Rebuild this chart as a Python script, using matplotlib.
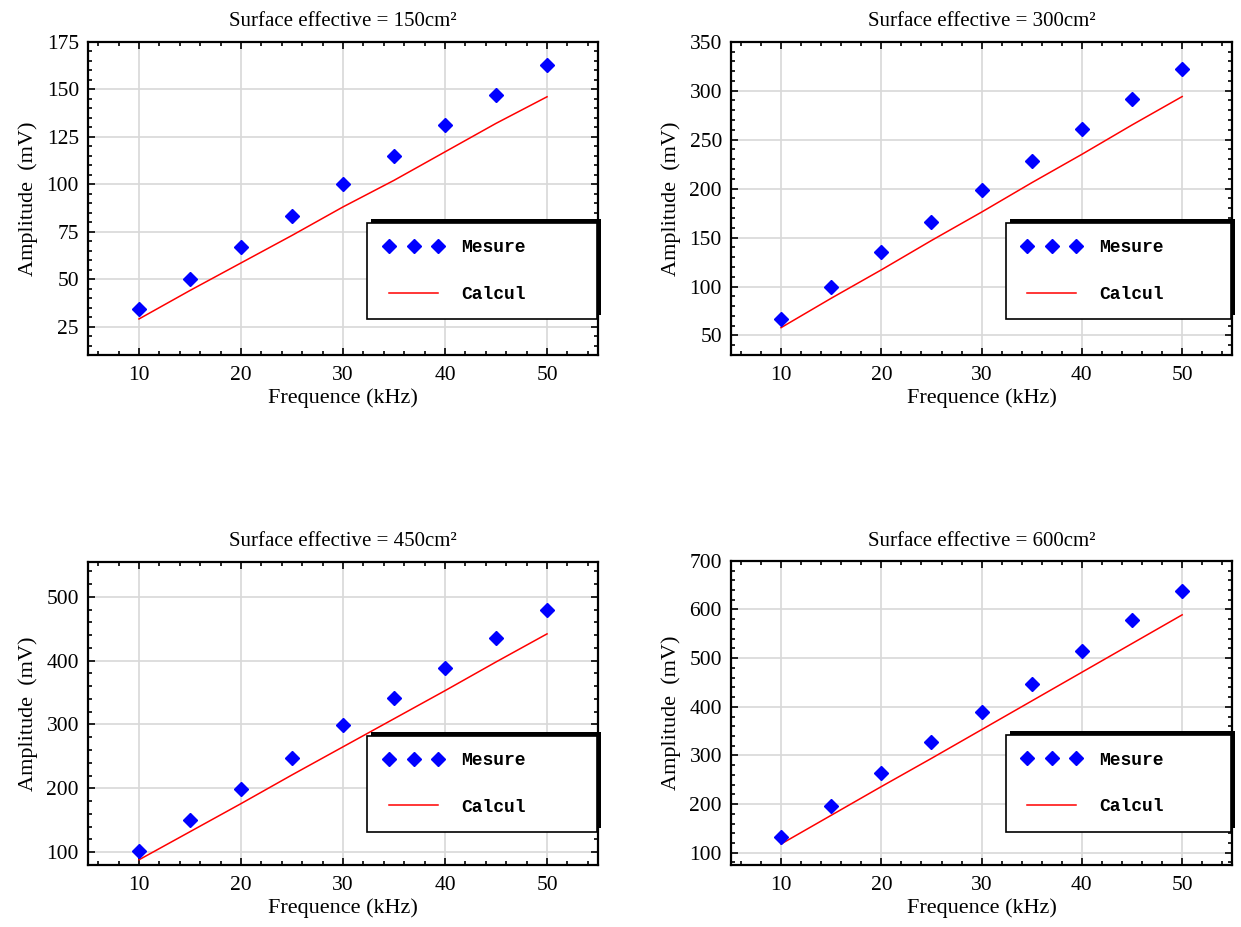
import numpy as np
import matplotlib.pyplot as plt
from matplotlib.ticker import MultipleLocator
from matplotlib.patches import Rectangle

# frequencies (kHz)
freq = [10, 15, 20, 25, 30, 35, 40, 45, 50]

surfaces = [150, 300, 450, 600]

mesure_150 = [34, 50, 67, 83, 100, 115, 131, 147, 163]
calcul_150 = [29, 44, 58.5, 73, 88, 102, 117, 132, 146]

mesure_300 = [67, 100, 135, 166, 199, 228, 261, 291, 322]
calcul_300 = [58, 88, 117, 147, 176, 206, 235, 265, 294]

mesure_450 = [101, 150, 199, 247, 299, 341, 389, 435, 480]
calcul_450 = [88, 132, 176, 221, 265, 309, 353, 398, 442]

mesure_600 = [133, 197, 263, 327, 390, 446, 514, 578, 638]
calcul_600 = [118, 177, 236, 294, 353, 412, 471, 530, 589]

mesures = [mesure_150, mesure_300, mesure_450, mesure_600]
calculs = [calcul_150, calcul_300, calcul_450, calcul_600]

# axis settings per panel: ylim, major, minor
ylims = [(10, 175), (30, 350), (80, 555), (75, 700)]
ymajor = [25, 50, 100, 100]
yminor = [5, 10, 20, 20]

# panel positions [left, bottom, width, height] in figure fraction
positions = [
    [0.0709, 0.617, 0.411, 0.338],
    [0.589, 0.617, 0.404, 0.338],
    [0.0709, 0.067, 0.411, 0.327],
    [0.589, 0.067, 0.404, 0.328],
]

serif = "Liberation Serif"
mono = "Liberation Mono"

fig = plt.figure(figsize=(12.41, 9.27), dpi=100)
legends = []

for i in range(4):
    ax = fig.add_axes(positions[i])
    ax.plot(freq, calculs[i], color="#ff0000", lw=1.1, label="Calcul", zorder=3)
    ax.plot(freq, mesures[i], ls="none", marker="D", ms=7, color="#0000ff",
            label="Mesure", zorder=4)

    ax.set_xlim(5, 55)
    ax.set_ylim(*ylims[i])
    ax.xaxis.set_major_locator(MultipleLocator(10))
    ax.xaxis.set_minor_locator(MultipleLocator(2))
    ax.yaxis.set_major_locator(MultipleLocator(ymajor[i]))
    ax.yaxis.set_minor_locator(MultipleLocator(yminor[i]))
    ax.grid(True, which="major", color="#d8d8d8", lw=1.2)
    ax.set_axisbelow(True)
    ax.tick_params(which="both", direction="in", top=True, right=True,
                   labelsize=15.5, width=1.2)
    ax.tick_params(which="major", length=5)
    ax.tick_params(which="minor", length=3)
    ax.tick_params(axis="x", which="major", pad=8)
    ax.tick_params(axis="y", which="major", pad=6.5)
    for lab in ax.get_xticklabels() + ax.get_yticklabels():
        lab.set_fontfamily(serif)
    for sp in ax.spines.values():
        sp.set_linewidth(1.6)

    ax.set_title("Surface effective = %dcm²" % surfaces[i], fontsize=15,
                 family=serif, pad=11)
    ax.set_xlabel("Frequence (kHz)", fontsize=16, family=serif, labelpad=2)
    ax.set_ylabel("Amplitude  (mV)", fontsize=16, family=serif, labelpad=6)

    handles, labels = ax.get_legend_handles_labels()
    leg = ax.legend(handles[::-1], labels[::-1], numpoints=3,
                    bbox_to_anchor=(0.548, 0.105, 0.45, 0.325), mode="expand",
                    loc="center", borderaxespad=0, fancybox=False,
                    edgecolor="black", framealpha=1, labelspacing=1.65,
                    handlelength=3.3, handletextpad=1.0, borderpad=0.9,
                    prop={"family": mono, "weight": "bold", "size": 13})
    leg.get_frame().set_linewidth(1.2)
    leg.set_zorder(10)
    legends.append((ax, leg))

# black drop shadow offset up and to the right, like the original
fig.canvas.draw()
for ax, leg in legends:
    bb = leg.get_window_extent()
    sh = Rectangle((bb.x0 + 4, bb.y0 + 4), bb.width, bb.height, transform=None,
                   facecolor="black", edgecolor="none", zorder=9, clip_on=False)
    ax.add_artist(sh)

plt.savefig("out.png", dpi=100)
